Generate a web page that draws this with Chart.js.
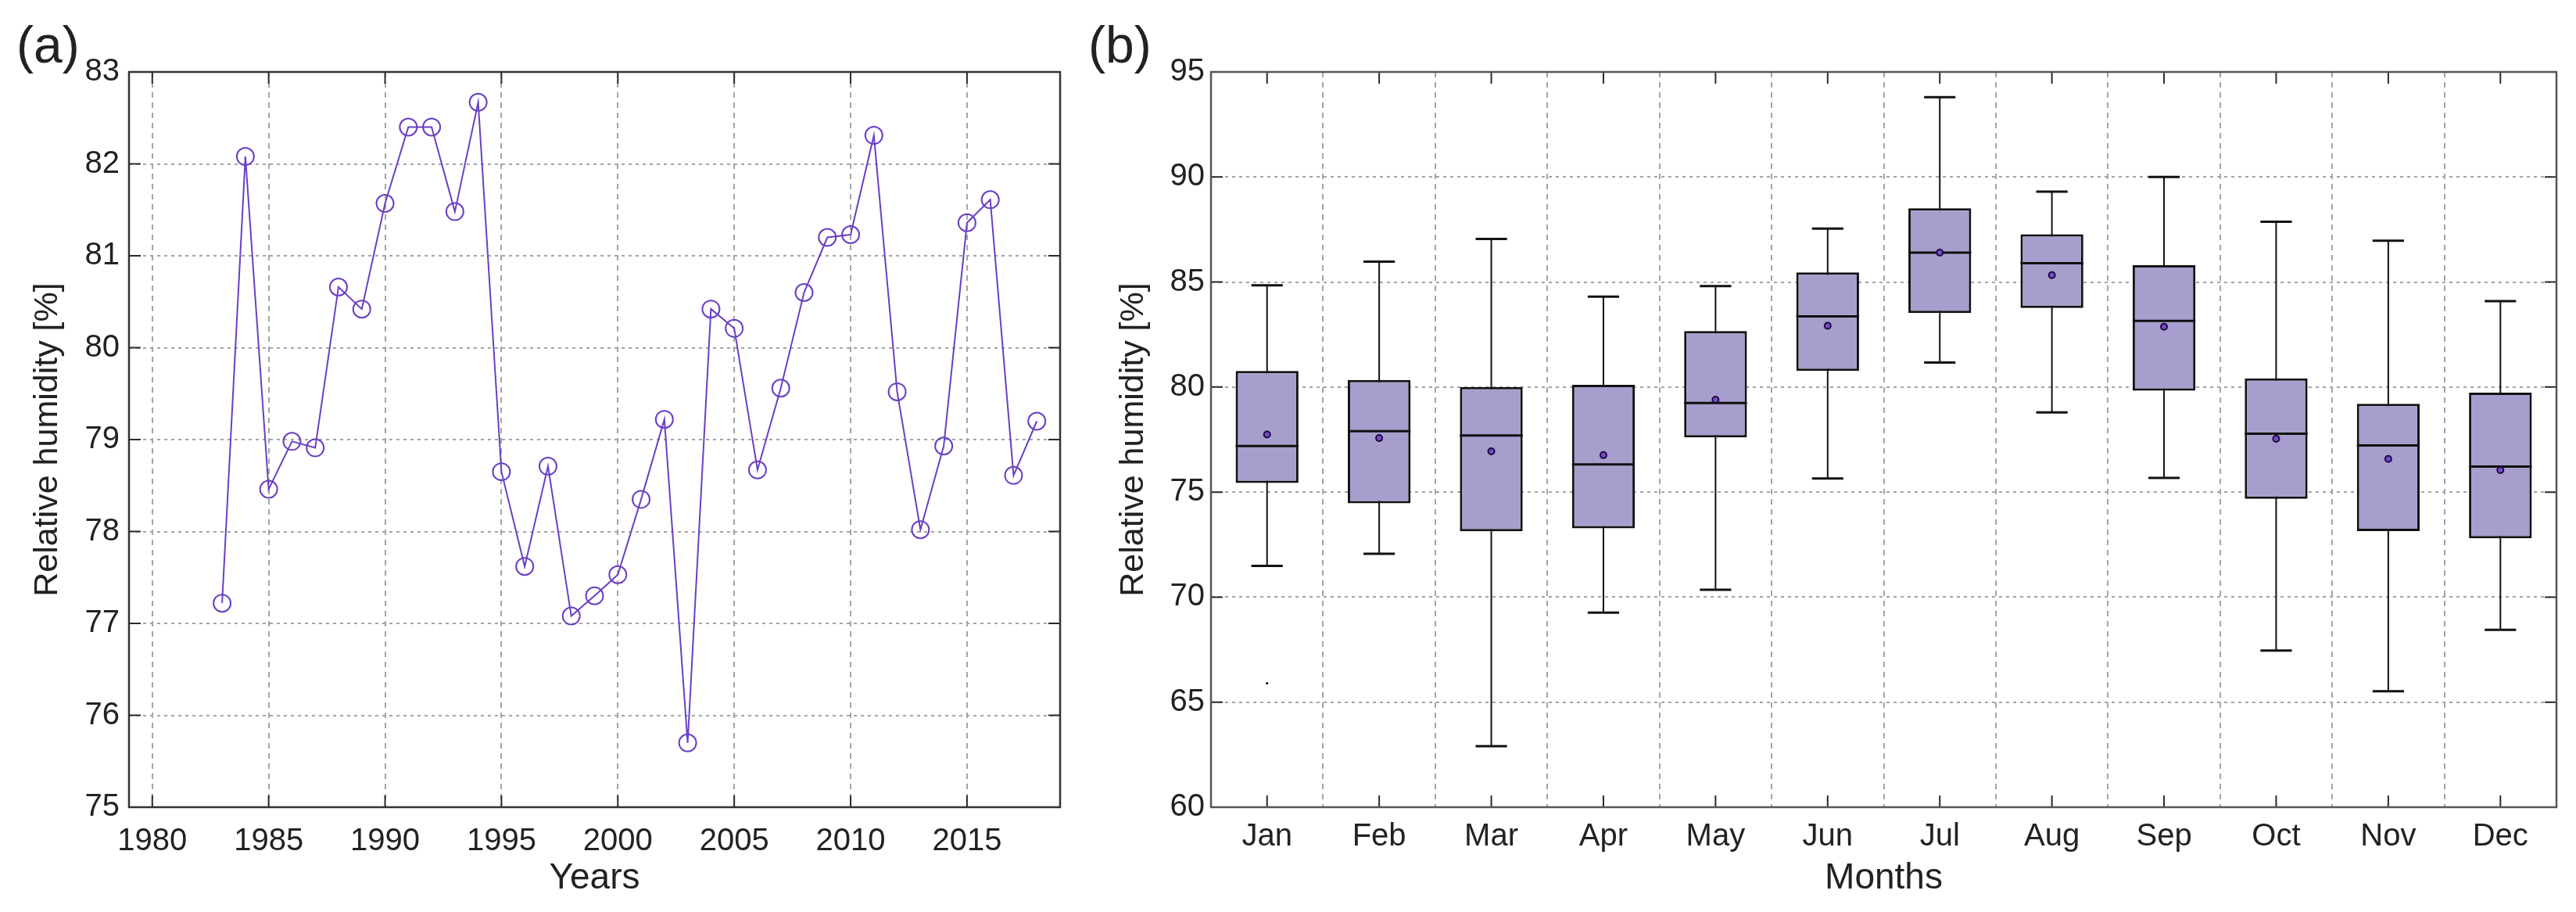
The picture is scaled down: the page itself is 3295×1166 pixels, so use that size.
<!DOCTYPE html>
<html>
<head>
<meta charset="utf-8">
<script src="https://cdn.jsdelivr.net/npm/chart.js@4.4.1/dist/chart.umd.min.js"></script>
<style>
html, body { margin: 0; padding: 0; background: #fff; }
#wrap { position: relative; width: 3295px; height: 1166px; }
canvas { position: absolute; top: 0; }
#yearChart { left: 0; }
#monthChart { left: 1380px; }
</style>
</head>
<body>
<div id="wrap">
  <canvas id="yearChart" width="1380" height="1166"></canvas>
  <canvas id="monthChart" width="1915" height="1166"></canvas>
</div>
<script>
// (a) annual mean relative humidity
var years = [1983, 1984, 1985, 1986, 1987, 1988, 1989, 1990, 1991, 1992, 1993, 1994,
             1995, 1996, 1997, 1998, 1999, 2000, 2001, 2002, 2003, 2004, 2005, 2006,
             2007, 2008, 2009, 2010, 2011, 2012, 2013, 2014, 2015, 2016, 2017, 2018];
var annualRH = [77.22, 82.08, 78.46, 78.98, 78.91, 80.66, 80.42, 81.57, 82.40, 82.40, 81.48, 82.67,
                78.65, 77.62, 78.71, 77.08, 77.30, 77.53, 78.35, 79.22, 75.70, 80.42, 80.21, 78.67,
                79.56, 80.60, 81.20, 81.23, 82.31, 79.52, 78.02, 78.93, 81.36, 81.61, 78.61, 79.20];
var yearTicks = [1980, 1985, 1990, 1995, 2000, 2005, 2010, 2015];

// (b) monthly box plots
var months = ['Jan', 'Feb', 'Mar', 'Apr', 'May', 'Jun', 'Jul', 'Aug', 'Sep', 'Oct', 'Nov', 'Dec'];
var whiskerLow  = [71.49, 72.06, 62.90, 69.26, 70.35, 75.65, 81.17, 78.79, 75.68, 67.46, 65.52, 68.44];
var q1          = [75.43, 74.47, 73.13, 73.27, 77.60, 80.77, 83.52, 83.76, 79.83, 74.68, 73.14, 72.80];
var median      = [77.19, 77.90, 77.70, 76.32, 79.24, 83.36, 86.40, 85.90, 83.15, 77.78, 77.22, 76.22];
var q3          = [80.77, 80.34, 80.00, 80.11, 82.67, 85.46, 88.51, 87.27, 85.80, 80.41, 79.20, 79.73];
var whiskerHigh = [84.84, 85.97, 87.05, 84.30, 84.81, 87.54, 93.80, 89.30, 90.00, 87.87, 86.97, 84.09];
var monthMean   = [77.74, 77.57, 76.94, 76.76, 79.40, 82.92, 86.40, 85.33, 82.87, 77.54, 76.58, 76.05];
var outliers    = [65.9, null, null, null, null, null, null, null, null, null, null, null];

Chart.defaults.font.family = "'Liberation Sans', Arial, sans-serif";
Chart.defaults.color = '#222';

var gridGray = '#a4a4a4';
var purple = '#6a3fc4';

// short ticks pointing inwards plus a frame round the plot
function frameTicks(frameColor) {
  return {
    id: 'frameTicks',
    afterDraw: function (chart) {
      var ctx = chart.ctx, a = chart.chartArea;
      var x = chart.scales.x, y = chart.scales.y;
      var L = 15;
      ctx.save();
      ctx.strokeStyle = '#2a2a2a';
      ctx.lineWidth = 2;
      ctx.beginPath();
      x.ticks.forEach(function (t, i) {
        var px = x.getPixelForTick(i);
        ctx.moveTo(px, a.top); ctx.lineTo(px, a.top + L);
        ctx.moveTo(px, a.bottom); ctx.lineTo(px, a.bottom - L);
      });
      y.ticks.forEach(function (t, i) {
        var py = y.getPixelForTick(i);
        ctx.moveTo(a.left, py); ctx.lineTo(a.left + L, py);
        ctx.moveTo(a.right, py); ctx.lineTo(a.right - L, py);
      });
      ctx.stroke();
      ctx.strokeStyle = frameColor;
      ctx.lineWidth = 2.5;
      ctx.strokeRect(a.left, a.top, a.right - a.left, a.bottom - a.top);
      ctx.restore();
    }
  };
}

function panelLabel(text, px) {
  return {
    id: 'panelLabel',
    afterDraw: function (chart) {
      var ctx = chart.ctx;
      ctx.save();
      ctx.font = "66px 'Liberation Sans', Arial, sans-serif";
      ctx.fillStyle = '#222';
      ctx.textBaseline = 'alphabetic';
      ctx.fillText(text, px, 80);
      ctx.restore();
    }
  };
}

// ---------- (a) ----------
new Chart(document.getElementById('yearChart'), {
  type: 'line',
  data: {
    datasets: [{
      data: years.map(function (yr, i) { return { x: yr, y: annualRH[i] }; }),
      borderColor: purple,
      borderWidth: 2,
      pointStyle: 'circle',
      pointRadius: 11,
      pointBorderWidth: 2,
      pointBorderColor: purple,
      pointBackgroundColor: 'rgba(0,0,0,0)',
      tension: 0
    }]
  },
  options: {
    responsive: false,
    animation: false,
    devicePixelRatio: 1,
    layout: { padding: { top: 92, right: 24, left: 0, bottom: 0 } },
    plugins: { legend: { display: false }, tooltip: { enabled: false } },
    scales: {
      x: {
        type: 'linear', min: 1979, max: 2019,
        afterBuildTicks: function (s) {
          s.ticks = yearTicks.map(function (v) { return { value: v }; });
        },
        ticks: { padding: 20, font: { size: 40 },
                 callback: function (v) { return String(v); } },
        grid: { color: gridGray, lineWidth: 2, drawTicks: false },
        border: { display: false, dash: [7, 6] },
        title: { display: true, text: 'Years', font: { size: 46 }, padding: { top: 0, bottom: 15 } },
        afterFit: function (s) { s.height = 134; }
      },
      y: {
        min: 75, max: 83,
        ticks: { stepSize: 1, padding: 12, font: { size: 40 } },
        grid: { color: gridGray, lineWidth: 2, drawTicks: false },
        border: { display: false, dash: [4, 5] },
        title: { display: true, text: 'Relative humidity [%]', font: { size: 43 }, padding: { top: 35, bottom: 0 } },
        afterFit: function (s) { s.width = 165; }
      }
    }
  },
  plugins: [frameTicks('#333'), panelLabel('(a)', 21)]
});

// ---------- (b) ----------
var boxPlugin = {
  id: 'boxParts',
  beforeDatasetsDraw: function (chart) {
    var ctx = chart.ctx, y = chart.scales.y;
    var bars = chart.getDatasetMeta(0).data;
    ctx.save();
    ctx.strokeStyle = '#111';
    ctx.lineWidth = 2;
    ctx.beginPath();
    bars.forEach(function (b, i) {
      ctx.moveTo(b.x, y.getPixelForValue(whiskerLow[i]));
      ctx.lineTo(b.x, y.getPixelForValue(whiskerHigh[i]));
    });
    ctx.stroke();
    ctx.restore();
  },
  afterDatasetDraw: function (chart, args) {
    if (args.index !== 0) return;
    var ctx = chart.ctx, y = chart.scales.y;
    var bars = chart.getDatasetMeta(0).data;
    ctx.save();
    ctx.strokeStyle = '#111';
    ctx.lineWidth = 3;
    ctx.beginPath();
    bars.forEach(function (b, i) {
      var half = b.width / 2, cap = b.width / 4;
      var ym = y.getPixelForValue(median[i]);
      ctx.moveTo(b.x - half, ym); ctx.lineTo(b.x + half, ym);
      var yl = y.getPixelForValue(whiskerLow[i]);
      var yh = y.getPixelForValue(whiskerHigh[i]);
      ctx.moveTo(b.x - cap, yl); ctx.lineTo(b.x + cap, yl);
      ctx.moveTo(b.x - cap, yh); ctx.lineTo(b.x + cap, yh);
    });
    ctx.stroke();
    ctx.restore();
  }
};

new Chart(document.getElementById('monthChart'), {
  type: 'bar',
  data: {
    labels: months,
    datasets: [{
      type: 'bar',
      data: q1.map(function (v, i) { return [v, q3[i]]; }),
      backgroundColor: '#a79ecd',
      borderColor: '#111',
      borderWidth: 3,
      borderSkipped: false,
      categoryPercentage: 1,
      barPercentage: 0.56
    }, {
      type: 'line',
      data: monthMean,
      showLine: false,
      order: -1,
      pointStyle: 'circle',
      pointRadius: 4,
      pointBorderWidth: 2,
      pointBorderColor: '#1a0a3a',
      pointBackgroundColor: '#7a48d0'
    }, {
      type: 'line',
      data: outliers,
      showLine: false,
      order: -2,
      pointStyle: 'circle',
      pointRadius: 1.5,
      pointBorderWidth: 0,
      pointBackgroundColor: '#000'
    }]
  },
  options: {
    responsive: false,
    animation: false,
    devicePixelRatio: 1,
    layout: { padding: { top: 92, right: 25, left: 0, bottom: 0 } },
    plugins: { legend: { display: false }, tooltip: { enabled: false } },
    scales: {
      x: {
        ticks: { padding: 14, font: { size: 40 } },
        grid: { color: gridGray, lineWidth: 2, drawTicks: false, offset: true },
        border: { display: false, dash: [7, 6] },
        title: { display: true, text: 'Months', font: { size: 46 }, padding: { top: 0, bottom: 15 } },
        afterFit: function (s) { s.height = 134; }
      },
      y: {
        min: 60, max: 95,
        ticks: { stepSize: 5, padding: 8, font: { size: 40 } },
        grid: { color: gridGray, lineWidth: 2, drawTicks: false },
        border: { display: false, dash: [4, 5] },
        title: { display: true, text: 'Relative humidity [%]', font: { size: 43 }, padding: { top: 44, bottom: 0 } },
        afterFit: function (s) { s.width = 169; }
      }
    }
  },
  plugins: [boxPlugin, frameTicks('#555'), panelLabel('(b)', 12)]
});
</script>
</body>
</html>
